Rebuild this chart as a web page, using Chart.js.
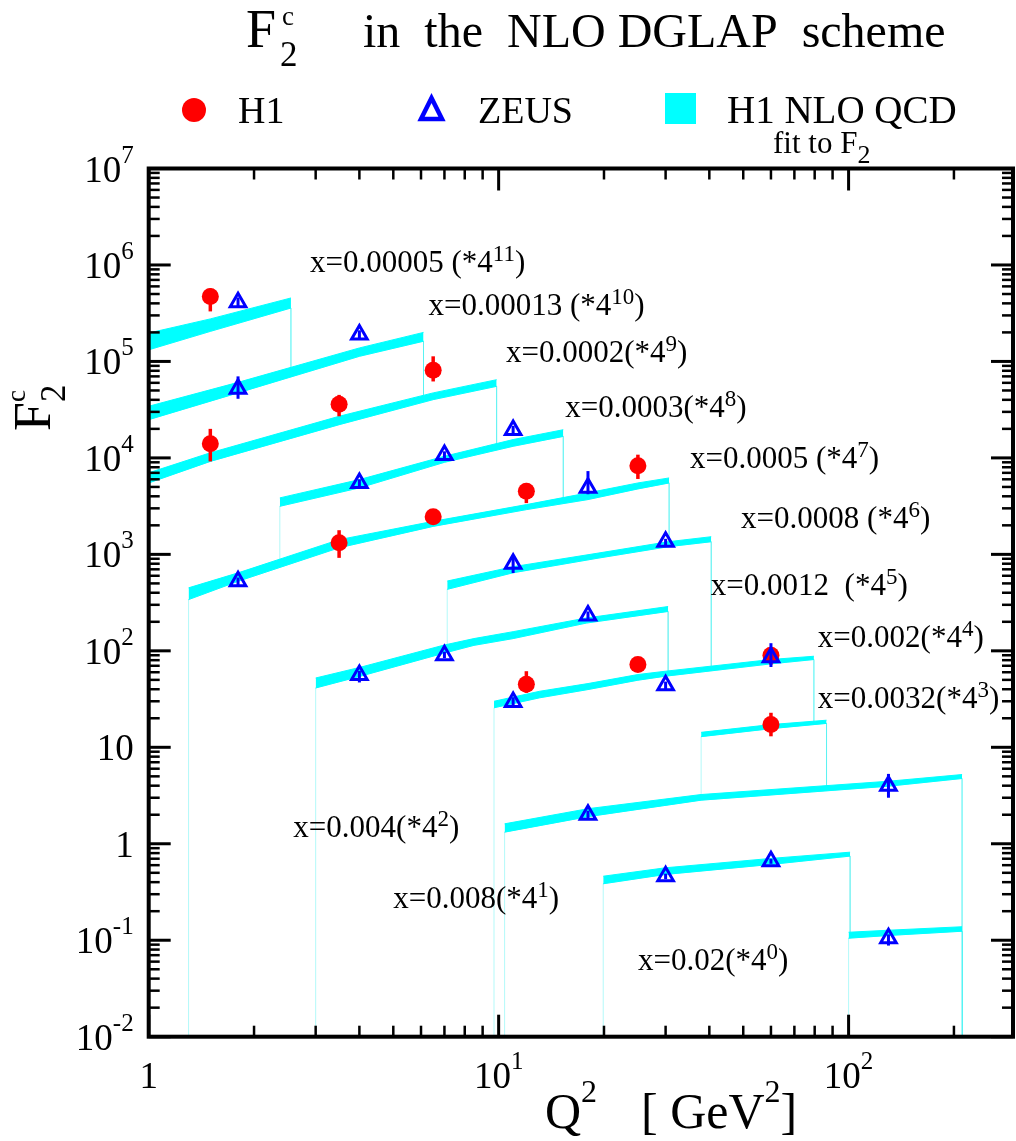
<!DOCTYPE html>
<html>
<head>
<meta charset="utf-8">
<script src="https://cdn.jsdelivr.net/npm/chart.js@4.4.1/dist/chart.umd.min.js"></script>
<style>
html, body { margin: 0; padding: 0; background: #fff; }
#wrap { width: 1016px; height: 1141px; position: relative; }
</style>
</head>
<body>
<div id="wrap"><canvas id="f2c"></canvas></div>
<script>
// H1 data points (Q2, F2c scaled, error bar ends)
const h1Q2 = [1.5, 1.5, 3.5, 6.5, 3.5, 6.5, 12, 25, 12, 25, 60, 60];
const h1F2 = [4.7e5, 1.4e4, 3.6e4, 8.1e4, 1.32e3, 2.45e3, 4.5e3, 8.3e3, 45, 72, 90, 17.2];
const h1Lo = [3.3e5, 9.2e3, 2.7e4, 6.2e4, 920, 2.1e3, 3.4e3, 6.05e3, 36.7, 62, 72, 13];
const h1Hi = [5.7e5, 2.0e4, 4.5e4, 1.13e5, 1.78e3, 2.8e3, 5.5e3, 1.08e4, 61.5, 84, 110, 22.8];

// ZEUS data points
const zeusQ2 = [1.8, 1.8, 4, 4, 7, 11, 1.8, 18, 11, 30, 4, 7, 18, 11, 30, 60, 18, 130, 30, 60, 130];
const zeusF2 = [4.1e5, 5.2e4, 1.9e5, 5.5e3, 1.07e4, 1.95e4, 525, 4.9e3, 800, 1.35e3, 56, 90, 233, 29.5, 44, 86, 2.0, 4.0, 0.46, 0.66, 0.105];
const zeusLo = [3.7e5, 4.1e4, 1.75e5, 5.0e3, 9.8e3, 1.75e4, 480, 4.2e3, 640, 1.25e3, 47, 84, 210, 26.5, 40, 68, 1.85, 3.0, 0.43, 0.62, 0.088];
const zeusHi = [4.6e5, 7.0e4, 2.1e5, 6.0e3, 1.17e4, 2.15e4, 575, 7.3e3, 960, 1.45e3, 62, 98, 256, 33, 48, 120, 2.2, 5.3, 0.49, 0.7, 0.115];

// H1 NLO QCD bands, one row per x bin
const bandQ2 = [
    [1, 1.5, 2.55],
    [1, 1.8, 4, 6.1],
    [1, 1.5, 3.5, 6.5, 9.87],
    [2.37, 4, 7, 11, 15.3],
    [1.3, 1.8, 3.5, 6.5, 12, 18, 25, 30.7],
    [7.13, 11, 19.1, 30.5, 40.5],
    [3, 4, 7, 8.5, 11, 17.8, 30.5],
    [9.7, 13.1, 18, 25, 30, 60, 79.6],
    [37.9, 60, 86.5],
    [10.4, 18, 37.9, 130, 211],
    [19.9, 30, 60, 101],
    [100, 130, 211]
];
const bandHi = [
    [1.97e5, 2.76e5, 4.55e5],
    [3.43e4, 6.07e4, 1.38e5, 2.0e5],
    [7.0e3, 1.13e4, 2.7e4, 4.72e4, 6.47e4],
    [3.85e3, 5.96e3, 1.04e4, 1.55e4, 1.96e4],
    [450, 643, 1.42e3, 2.2e3, 3.28e3, 4.34e3, 5.5e3, 6.2e3],
    [529, 745, 1.026e3, 1.352e3, 1.524e3],
    [52.3, 67.2, 115, 134, 158, 219, 288],
    [30, 38.1, 45.8, 56.8, 61.5, 81.3, 87.9],
    [14.3, 17.2, 19.1],
    [1.61, 2.31, 3.24, 4.45, 5.22],
    [0.461, 0.564, 0.705, 0.818],
    [0.121, 0.127, 0.138]
];
const bandLo = [
    [1.32e5, 2.05e5, 3.58e5],
    [2.49e4, 4.72e4, 1.13e5, 1.62e5],
    [5.5e3, 9.2e3, 2.21e4, 4.02e4, 5.52e4],
    [3.15e3, 4.89e3, 9.0e3, 1.32e4, 1.67e4],
    [340, 526, 1.17e3, 1.95e3, 2.91e3, 3.7e3, 4.77e3, 5.5e3],
    [434, 645, 910, 1.2e3, 1.352e3],
    [41.2, 54.2, 94.9, 114, 134, 194, 256],
    [25.7, 32.6, 39.7, 49.6, 54.6, 73.3, 81.3],
    [12.9, 15.6, 17.7],
    [1.32, 1.91, 2.83, 3.95, 4.75],
    [0.385, 0.481, 0.611, 0.745],
    [0.105, 0.112, 0.124]
];
const bandText = ['x=0.00005 (*4', 'x=0.00013 (*4', 'x=0.0002(*4', 'x=0.0003(*4', 'x=0.0005 (*4', 'x=0.0008 (*4',
    'x=0.0012  (*4', 'x=0.002(*4', 'x=0.0032(*4', 'x=0.004(*4', 'x=0.008(*4', 'x=0.02(*4'];
const bandPow = ['11', '10', '9', '8', '7', '6', '5', '4', '3', '2', '1', '0'];
// where each bin label sits (Q2, F2 of its left baseline)
const labelQ2 = [2.89, 6.3, 10.5, 15.5, 35.2, 49.3, 40.4, 81.7, 81.7, 2.59, 5.0, 25.0];
const labelF2 = [8.5e5, 3.03e5, 9.93e4, 2.67e4, 7.8e3, 1.86e3, 379, 110, 25.4, 1.18, 0.214, 0.049];

const X_MIN = 1, X_MAX = 295;
const Y_MIN = 0.01, Y_MAX = 1e7;

const SERIF = '"Liberation Serif", "Times New Roman", Times, serif';
const CYAN = '#00ffff';

function pts(xs, ys) {
    return xs.map((x, i) => ({ x: x, y: ys[i] }));
}

// 1..9 x 10^n ticks, majors at the decades
function logTicks(scale) {
    const ticks = [];
    const e0 = Math.floor(Math.log10(scale.min) + 1e-9);
    const e1 = Math.ceil(Math.log10(scale.max) - 1e-9);
    for (let e = e0; e <= e1; e++) {
        for (let m = 1; m <= 9; m++) {
            const v = m * Math.pow(10, e);
            if (v >= scale.min * 0.999 && v <= scale.max * 1.001) {
                ticks.push({ value: v, major: m === 1 });
            }
        }
    }
    scale.ticks = ticks;
}

// text made of pieces: [string, size, baseline shift]
function drawRich(ctx, parts, x, y, align) {
    let w = 0;
    parts.forEach(p => {
        ctx.font = p[1] + 'px ' + SERIF;
        w += ctx.measureText(p[0]).width;
    });
    let cx = align === 'right' ? x - w : (align === 'center' ? x - w / 2 : x);
    parts.forEach(p => {
        ctx.font = p[1] + 'px ' + SERIF;
        ctx.fillText(p[0], cx, y + (p[2] || 0));
        cx += ctx.measureText(p[0]).width;
    });
}

function decadeLabel(e, axis) {
    if (e === 0) return [['1', 37]];
    if (e === 1 && axis === 'y') return [['10', 37]];
    return [['10', 37], [String(e), 25, -19]];
}

const datasets = [];
datasets.push({
    label: 'ZEUS',
    data: pts(zeusQ2, zeusF2),
    showLine: false,
    pointStyle: 'triangle',
    pointRadius: 9,
    pointBorderWidth: 3,
    pointBorderColor: '#0000ff',
    pointBackgroundColor: 'rgba(0,0,0,0)',
    order: 0
});
datasets.push({
    label: 'H1',
    data: pts(h1Q2, h1F2),
    showLine: false,
    pointStyle: 'circle',
    pointRadius: 8.5,
    pointBorderWidth: 0,
    pointBackgroundColor: '#ff0000',
    order: 0
});
bandQ2.forEach((q, k) => {
    const base = 1000 - 10 * k;
    const n = q.length - 1;
    // white cover down to the axis, with the thin end lines
    datasets.push({
        label: 'cover' + k,
        data: [{ x: q[0], y: Y_MIN }].concat(pts(q, bandLo[k]), [{ x: q[n], y: Y_MIN }]),
        fill: 'start',
        backgroundColor: '#ffffff',
        borderColor: 'rgba(0,235,235,0.3)',
        borderWidth: 1,
        pointRadius: 0,
        order: base + 3
    });
    datasets.push({
        label: 'lo' + k,
        data: pts(q, bandLo[k]),
        fill: false,
        borderColor: CYAN,
        borderWidth: 1,
        pointRadius: 0,
        order: base + 2
    });
    datasets.push({
        label: 'hi' + k,
        data: pts(q, bandHi[k]),
        fill: '-1',
        backgroundColor: CYAN,
        borderColor: CYAN,
        borderWidth: 1,
        pointRadius: 0,
        order: base + 1
    });
});

const errorBars = {
    id: 'errorBars',
    beforeDatasetDraw(chart, args) {
        const lbl = chart.data.datasets[args.index].label;
        let q, lo, hi, col, lw;
        if (lbl === 'H1') { q = h1Q2; lo = h1Lo; hi = h1Hi; col = '#ff0000'; lw = 3.5; }
        else if (lbl === 'ZEUS') { q = zeusQ2; lo = zeusLo; hi = zeusHi; col = '#0000ff'; lw = 3; }
        else return;
        const ctx = chart.ctx, xs = chart.scales.x, ys = chart.scales.y;
        ctx.save();
        ctx.strokeStyle = col;
        ctx.lineWidth = lw;
        q.forEach((v, i) => {
            const px = xs.getPixelForValue(v);
            ctx.beginPath();
            ctx.moveTo(px, ys.getPixelForValue(lo[i]));
            ctx.lineTo(px, ys.getPixelForValue(hi[i]));
            ctx.stroke();
        });
        ctx.restore();
    }
};

const decorations = {
    id: 'decorations',
    afterDraw(chart) {
        const ctx = chart.ctx, a = chart.chartArea;
        const xs = chart.scales.x, ys = chart.scales.y;
        ctx.save();
        ctx.fillStyle = '#000';
        ctx.strokeStyle = '#000';
        ctx.textBaseline = 'alphabetic';

        // inward ticks on all four sides
        const seg = (x1, y1, x2, y2) => { ctx.beginPath(); ctx.moveTo(x1, y1); ctx.lineTo(x2, y2); ctx.stroke(); };
        ys.ticks.forEach(t => {
            const py = ys.getPixelForValue(t.value);
            const len = t.major ? 22 : 11;
            ctx.lineWidth = t.major ? 3 : 2.5;
            seg(a.left, py, a.left + len, py);
            seg(a.right, py, a.right - len, py);
        });
        xs.ticks.forEach(t => {
            const px = xs.getPixelForValue(t.value);
            const len = t.major ? 22 : 11;
            ctx.lineWidth = t.major ? 3 : 2.5;
            seg(px, a.bottom, px, a.bottom - len);
            seg(px, a.top, px, a.top + len);
        });
        ctx.lineWidth = 4;
        ctx.strokeRect(a.left, a.top, a.right - a.left, a.bottom - a.top);

        // tick labels
        ys.ticks.filter(t => t.major).forEach(t => {
            const e = Math.round(Math.log10(t.value));
            drawRich(ctx, decadeLabel(e, 'y'), a.left - 15, ys.getPixelForValue(t.value) + 13, 'right');
        });
        xs.ticks.filter(t => t.major).forEach(t => {
            const e = Math.round(Math.log10(t.value));
            drawRich(ctx, decadeLabel(e, 'x'), xs.getPixelForValue(t.value), a.bottom + 51, 'center');
        });

        // bin labels
        bandText.forEach((txt, k) => {
            drawRich(ctx, [[txt, 31], [bandPow[k], 23, -11], [')', 31]],
                xs.getPixelForValue(labelQ2[k]), ys.getPixelForValue(labelF2[k]), 'left');
        });

        // title
        drawRich(ctx, [['F', 54]], 246, 47, 'left');
        drawRich(ctx, [['c', 27]], 282, 25, 'left');
        drawRich(ctx, [['2', 35]], 280, 66, 'left');
        drawRich(ctx, [['in  the  NLO DGLAP  scheme', 48]], 363, 47, 'left');

        // axis titles
        drawRich(ctx, [['Q', 50], ['2', 32, -26]], 545, 1128, 'left');
        drawRich(ctx, [['[ GeV', 50], ['2', 32, -26], [']', 50]], 641, 1128, 'left');
        ctx.save();
        ctx.translate(50, 431);
        ctx.rotate(-Math.PI / 2);
        drawRich(ctx, [['F', 52]], 0, 0, 'left');
        drawRich(ctx, [['c', 27]], 29, -25, 'left');
        drawRich(ctx, [['2', 35]], 29, 15, 'left');
        ctx.restore();

        // legend
        ctx.fillStyle = '#ff0000';
        ctx.beginPath();
        ctx.arc(194, 110, 12, 0, Math.PI * 2);
        ctx.fill();
        ctx.strokeStyle = '#0000ff';
        ctx.lineWidth = 4.5;
        ctx.lineJoin = 'miter';
        ctx.beginPath();
        ctx.moveTo(431.5, 98);
        ctx.lineTo(442, 119);
        ctx.lineTo(421, 119);
        ctx.closePath();
        ctx.stroke();
        ctx.fillStyle = CYAN;
        ctx.fillRect(665, 93, 31, 31);
        ctx.fillStyle = '#000';
        drawRich(ctx, [['H1', 38]], 238, 123, 'left');
        drawRich(ctx, [['ZEUS', 38]], 478, 123, 'left');
        drawRich(ctx, [['H1 NLO QCD', 39]], 727, 123, 'left');
        drawRich(ctx, [['fit to F', 31], ['2', 26, 10]], 773, 153, 'left');
        ctx.restore();
    }
};

const ctx = document.getElementById('f2c').getContext('2d');
const f2cChart = new Chart(ctx, {
    type: 'line',
    data: { datasets: datasets },
    options: {
        responsive: true,
        maintainAspectRatio: false,
        animation: false,
        events: [],
        layout: {
            autoPadding: false,
            padding: { left: 148.7, right: 3, top: 168.5, bottom: 104.3 }
        },
        scales: {
            x: {
                type: 'logarithmic',
                min: X_MIN,
                max: X_MAX,
                afterBuildTicks: logTicks,
                grid: { display: false, drawTicks: false },
                border: { display: false },
                ticks: { display: false, autoSkip: false }
            },
            y: {
                type: 'logarithmic',
                min: Y_MIN,
                max: Y_MAX,
                afterBuildTicks: logTicks,
                grid: { display: false, drawTicks: false },
                border: { display: false },
                ticks: { display: false, autoSkip: false }
            }
        },
        plugins: {
            legend: { display: false },
            tooltip: { enabled: false },
            filler: { drawTime: 'beforeDatasetDraw', propagate: false }
        }
    },
    plugins: [errorBars, decorations]
});
</script>
</body>
</html>
